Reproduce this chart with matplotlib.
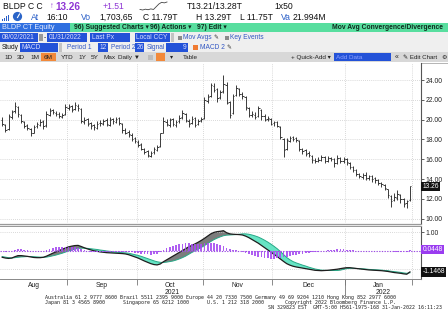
import numpy as np
import pandas as pd
import matplotlib
matplotlib.use('Agg')
import matplotlib.pyplot as plt
import matplotlib.transforms as mtransforms
from matplotlib.patches import Rectangle, Circle

# ---- data ----
dates = pd.bdate_range('2021-08-03', '2022-01-31')

opens = [20.0, 19.5, 19.1, 20.3, 20.9, 21.3, 20.5, 19.8, 19.5, 19.1,
         18.7, 19.4, 19.5, 19.9, 19.5, 20.5, 21.0, 20.7, 20.6, 20.3,
         20.6, 21.2, 21.4, 21.1, 21.4, 21.1, 19.8, 20.1, 19.7, 19.5,
         19.2, 19.7, 19.6, 20.0, 19.5, 20.1, 19.8, 20.2, 19.6, 19.0,
         18.8, 18.4, 18.1, 17.7, 17.5, 17.0, 16.8, 16.3, 16.7, 16.9,
         17.3, 18.7, 19.8, 19.5, 20.1, 19.5, 19.9, 20.3, 20.6, 19.9,
         19.7, 20.2, 19.6, 20.0, 20.2, 21.9, 22.4, 23.4, 23.1, 22.3,
         22.9, 23.5, 21.8, 20.7, 22.5, 23.1, 22.6, 22.3, 21.2, 20.5,
         20.5, 20.4, 21.0, 20.4, 20.1, 20.1, 19.7, 19.8, 19.3, 18.0,
         17.0, 17.8, 18.2, 18.1, 17.8, 17.0, 16.9, 16.6, 16.3, 15.9,
         15.8, 15.9, 16.2, 15.8, 16.1, 16.0, 15.6, 16.1, 15.8, 16.0,
         15.6, 15.2, 14.9, 14.5, 14.2, 14.4, 14.1, 14.3, 14.1, 13.9,
         13.6, 13.4, 13.0, 12.3, 11.9, 12.1, 12.4, 12.0, 11.6, 11.9]
highs = [20.3, 19.6, 20.6, 21.0, 21.8, 21.4, 20.6, 19.9, 19.6, 19.2,
         19.5, 19.8, 20.1, 20.0, 20.9, 21.2, 21.1, 20.9, 20.8, 20.7,
         21.6, 21.6, 21.5, 21.8, 21.6, 21.2, 20.3, 20.2, 19.8, 19.6,
         19.9, 20.0, 20.1, 20.2, 20.3, 20.2, 20.3, 20.3, 19.7, 19.2,
         19.0, 18.6, 18.2, 17.9, 17.6, 17.1, 16.9, 16.8, 17.2, 17.4,
         18.7, 20.3, 20.1, 20.2, 20.2, 20.0, 20.5, 21.0, 20.7, 20.1,
         20.4, 20.3, 20.1, 20.3, 22.3, 22.6, 23.7, 23.7, 23.2, 23.0,
         24.5, 23.8, 21.9, 22.6, 23.5, 23.2, 22.8, 22.4, 21.3, 20.9,
         20.8, 21.4, 21.1, 20.6, 20.4, 20.2, 19.9, 19.9, 19.4, 18.1,
         18.1, 18.3, 18.3, 18.2, 17.9, 17.1, 17.0, 16.8, 16.4, 16.1,
         16.2, 16.4, 16.3, 16.3, 16.2, 16.1, 16.4, 16.2, 16.2, 16.1,
         15.7, 15.3, 15.0, 14.6, 14.6, 14.7, 14.4, 14.4, 14.2, 14.0,
         13.7, 13.5, 13.0, 12.4, 12.6, 12.9, 12.5, 12.1, 11.9, 13.29]
lows = [19.4, 18.8, 19.0, 20.1, 20.7, 20.3, 19.7, 19.2, 19.0, 18.3,
        18.6, 19.2, 19.4, 19.1, 19.3, 20.4, 20.6, 20.4, 20.2, 20.2,
        20.5, 21.0, 20.8, 21.0, 20.9, 19.7, 19.6, 19.4, 19.1, 19.0,
        19.1, 19.4, 19.5, 19.4, 19.4, 19.6, 19.7, 19.5, 18.7, 18.5,
        18.2, 17.8, 17.6, 17.2, 16.9, 16.5, 16.2, 16.2, 16.5, 16.8,
        17.2, 18.6, 19.4, 19.3, 19.4, 19.3, 19.7, 20.1, 19.8, 19.3,
        19.6, 19.3, 19.5, 19.8, 20.1, 21.7, 22.3, 22.8, 21.8, 22.1,
        22.7, 21.6, 20.2, 20.6, 22.4, 22.4, 22.1, 21.0, 20.3, 20.3,
        20.1, 20.3, 20.0, 19.9, 19.9, 19.5, 19.4, 19.3, 18.0, 16.2,
        16.9, 17.7, 17.8, 17.7, 16.8, 16.5, 16.3, 16.2, 15.6, 15.6,
        15.7, 15.8, 15.6, 15.7, 15.8, 15.2, 15.5, 15.6, 15.6, 15.4,
        15.0, 14.7, 14.3, 14.1, 14.0, 13.9, 13.9, 13.7, 13.6, 13.4,
        13.2, 12.9, 12.1, 11.2, 11.8, 11.9, 11.6, 11.2, 11.1, 11.75]
closes = [19.6, 19.0, 20.4, 20.8, 21.4, 20.6, 19.9, 19.4, 19.2, 18.6,
          19.3, 19.6, 19.8, 19.4, 20.6, 20.9, 20.8, 20.6, 20.4, 20.5,
          21.3, 21.3, 21.0, 21.5, 21.2, 19.9, 20.0, 19.6, 19.4, 19.3,
          19.6, 19.7, 19.9, 19.6, 20.0, 19.9, 20.1, 19.7, 19.0, 18.7,
          18.5, 18.0, 17.8, 17.4, 17.0, 16.7, 16.4, 16.6, 17.0, 17.2,
          18.6, 19.9, 19.6, 20.0, 19.6, 19.8, 20.2, 20.7, 20.0, 19.6,
          20.1, 19.5, 19.9, 20.1, 22.0, 22.3, 23.5, 23.0, 22.2, 22.8,
          23.6, 21.7, 20.5, 22.4, 23.2, 22.6, 22.4, 21.3, 20.5, 20.6,
          20.3, 21.2, 20.4, 20.0, 20.2, 19.6, 19.8, 19.4, 18.2, 16.9,
          17.9, 18.1, 18.0, 17.9, 17.0, 16.8, 16.5, 16.4, 15.9, 15.8,
          15.9, 16.2, 15.8, 16.1, 16.0, 15.6, 16.1, 15.8, 16.0, 15.7,
          15.2, 14.9, 14.5, 14.3, 14.4, 14.1, 14.3, 14.0, 13.9, 13.6,
          13.5, 13.1, 12.4, 11.8, 12.2, 12.5, 12.0, 11.5, 11.8, 13.26]

macd = [-0.36, -0.40, -0.42, -0.40, -0.33, -0.27, -0.27, -0.29, -0.31, -0.34,
        -0.37, -0.38, -0.38, -0.36, -0.30, -0.22, -0.14, -0.07, 0.00, 0.07,
        0.14, 0.20, 0.24, 0.27, 0.28, 0.22, 0.15, 0.09, 0.04, -0.01,
        -0.04, -0.07, -0.09, -0.11, -0.12, -0.13, -0.14, -0.15, -0.16, -0.18,
        -0.22, -0.28, -0.34, -0.40, -0.48, -0.56, -0.63, -0.70, -0.75, -0.77,
        -0.72, -0.60, -0.50, -0.40, -0.30, -0.20, -0.10, 0.00, 0.10, 0.20,
        0.28, 0.36, 0.45, 0.55, 0.66, 0.78, 0.90, 0.98, 1.02, 1.04,
        1.07, 0.96, 0.90, 0.88, 0.87, 0.86, 0.84, 0.78, 0.70, 0.60,
        0.50, 0.40, 0.28, 0.16, 0.04, -0.08, -0.20, -0.32, -0.45, -0.58,
        -0.70, -0.78, -0.84, -0.88, -0.91, -0.94, -0.97, -1.00, -1.03, -1.06,
        -1.07, -1.08, -1.07, -1.06, -1.04, -1.02, -1.00, -0.97, -0.94, -0.92,
        -0.92, -0.94, -0.96, -0.98, -1.00, -1.02, -1.04, -1.05, -1.06, -1.07,
        -1.08, -1.10, -1.12, -1.15, -1.18, -1.20, -1.22, -1.25, -1.27, -1.1468]
hist = [-0.04, -0.05, -0.04, 0.00, 0.05, 0.09, 0.07, 0.04, 0.01, -0.02,
        -0.04, -0.04, -0.03, 0.00, 0.05, 0.10, 0.14, 0.17, 0.19, 0.21,
        0.22, 0.22, 0.21, 0.19, 0.16, 0.09, 0.02, -0.03, -0.06, -0.09,
        -0.10, -0.10, -0.10, -0.09, -0.08, -0.07, -0.06, -0.05, -0.05, -0.06,
        -0.08, -0.10, -0.12, -0.14, -0.17, -0.19, -0.20, -0.21, -0.20, -0.17,
        -0.09, 0.04, 0.12, 0.19, 0.26, 0.31, 0.35, 0.38, 0.40, 0.40,
        0.38, 0.37, 0.37, 0.38, 0.39, 0.40, 0.41, 0.39, 0.35, 0.30,
        0.27, 0.13, 0.06, 0.03, 0.01, -0.02, -0.06, -0.12, -0.18, -0.24,
        -0.29, -0.33, -0.37, -0.40, -0.42, -0.43, -0.43, -0.42, -0.40, -0.37,
        -0.33, -0.29, -0.25, -0.22, -0.19, -0.16, -0.14, -0.11, -0.09, -0.07,
        -0.05, -0.03, -0.01, 0.01, 0.03, 0.05, 0.07, 0.08, 0.07, 0.05,
        0.03, 0.01, 0.00, -0.01, -0.02, -0.03, -0.03, -0.03, -0.03, -0.03,
        -0.03, -0.03, -0.04, -0.04, -0.05, -0.05, -0.05, -0.05, -0.05, 0.0448]

price_ticks = [10, 12, 14, 16, 18, 20, 22, 24]
macd_ticks = [1.0, -1.0]
spark = [11.9, 11.8, 11.95, 11.85, 12.0, 11.9, 12.4, 12.9, 13.2, 13.1, 13.26]

SANS = ['Liberation Sans', 'DejaVu Sans']
MONO = 'DejaVu Sans Mono'
W, H = 448, 322
BLUE_F = '#2352d8'
PURPLE = '#8e35d4'


def main():
    x = np.arange(len(dates))
    o, h, l, c = map(np.array, (opens, highs, lows, closes))
    m = np.array(macd)
    hs = np.array(hist)
    sig = m - hs

    fig = plt.figure(figsize=(W / 100, H / 100), dpi=100)
    fig.patch.set_facecolor('white')

    def box(x0, y0, x1, y1):
        return [x0 / W, 1 - y1 / H, (x1 - x0) / W, (y1 - y0) / H]

    # pixel overlay for the terminal header / footer
    hd = fig.add_axes([0, 0, 1, 1])
    hd.set_xlim(0, W)
    hd.set_ylim(H, 0)
    hd.axis('off')

    def rect(x0, y0, x1, y1, fc):
        hd.add_patch(Rectangle((x0, y0), x1 - x0, y1 - y0, fc=fc, ec='none'))

    def txt(xx, yy, s, size=5, color='#111111', weight='normal', family=SANS, ha='left'):
        hd.text(xx, yy, s, fontsize=size, color=color, fontweight=weight,
                family=family, ha=ha, va='center')

    # row 1
    txt(3, 6.5, 'BLDP C C', 6.2)
    txt(50, 6.5, '\u2191', 5.5, PURPLE)
    txt(55, 6.5, '13.26', 7.2, PURPLE, 'bold')
    txt(103, 6.5, '+1.51', 6.2, PURPLE)
    sx = np.linspace(140, 167, len(spark))
    sv = np.array(spark)
    hd.plot(sx, 10 - (sv - sv.min()) / (sv.max() - sv.min()) * 8, color='#444', lw=0.6)
    txt(187, 6.5, 'T13.21/13.28T', 6.2)
    txt(274, 6.5, '1x50', 6.2)
    # row 2
    for i, hh in enumerate([2, 3.5, 5, 6.5]):
        rect(2 + i * 2, 21 - hh, 3.3 + i * 2, 21, '#2a5fc8')
    hd.add_patch(Circle((17.5, 16.5), 4.6, fc='#2a64c8', ec='none'))
    hd.plot([17.5, 19.5], [17.5, 14], color='white', lw=0.8)
    txt(31, 17, 'At', 6.2, '#2a5fc8')
    txt(46, 17, '16:10', 6.2)
    txt(81, 17, 'Vo', 6.2, '#2a5fc8')
    txt(99, 17, '1,703,65', 6.2)
    txt(143, 17, 'C 11.79T', 6.2)
    txt(196, 17, 'H 13.29T', 6.2)
    txt(240, 17, 'L 11.75T', 6.2)
    txt(281, 17, 'Va', 6.2, '#2a5fc8')
    txt(293, 17, '21.994M', 6.2)
    # row 3
    rect(0, 23, 70, 32, '#2f6fe0')
    txt(2, 27.5, 'BLDP CT Equity', 5.2, '#e6ebff')
    rect(70, 23, 448, 32, '#58de9f')
    txt(74, 27.5, '96) Suggested Charts \u25be', 4.9, '#0d2a1c', 'bold')
    txt(150, 27.5, '96) Actions \u25be', 4.9, '#0d2a1c', 'bold')
    txt(197, 27.5, '97) Edit \u25be', 4.9, '#0d2a1c', 'bold')
    txt(443, 27.5, 'Mov Avg Convergence/Divergence', 4.9, '#0d2a1c', 'bold', ha='right')
    # rows 4-5
    rect(0, 32, 448, 52, '#efefef')
    for x0, x1, s in [(0, 38, '08/02/2021'), (47, 87, '01/31/2022'),
                      (90, 130, 'Last Px'), (135, 170, 'Local CCY')]:
        rect(x0, 33, x1, 42, BLUE_F)
        txt(x0 + 1.5, 37.5, s, 4.8, '#d9ddff')
    rect(39, 34, 42.5, 41, '#9a9a9a')
    txt(43.5, 37.5, '-', 4.8)
    rect(170.5, 33, 174, 42, '#c4c4c4')
    rect(178, 35.5, 181.5, 39.5, '#8a8a8a')
    txt(183, 37.5, 'Mov Avgs', 4.8, '#3358c4')
    txt(213, 37.5, '\u270e', 4.2, '#333')
    rect(225, 35.5, 228.5, 39.5, '#8a8a8a')
    txt(230, 37.5, 'Key Events', 4.8, '#3358c4')
    txt(2, 47.5, 'Study', 4.8)
    rect(20, 43, 58, 52, BLUE_F)
    txt(22, 47.5, 'MACD', 4.8, '#d9ddff')
    rect(58.5, 43, 62, 52, '#c4c4c4')
    txt(67, 47.5, 'Period 1', 4.8, '#3358c4')
    rect(98, 43, 108, 52, BLUE_F)
    txt(100, 47.5, '12', 4.8, '#d9ddff')
    txt(111, 47.5, 'Period 2', 4.8, '#3358c4')
    rect(135, 43, 144, 52, BLUE_F)
    txt(137, 47.5, '26', 4.8, '#d9ddff')
    txt(147, 47.5, 'Signal', 4.8, '#3358c4')
    rect(166, 43, 188, 52, BLUE_F)
    txt(186, 47.5, '9', 4.8, '#d9ddff', ha='right')
    rect(193, 44.5, 198, 50, '#f07a30')
    txt(200, 47.5, 'MACD 2', 4.8, '#3358c4')
    txt(226, 47.5, '\u270e', 4.2, '#333')
    # row 6
    rect(0, 52, 448, 62, '#d8d8d8')
    rect(41, 53, 56, 61, '#f2893a')
    for xx, s in [(4, '1D'), (17, '3D'), (30, '1M'), (44, '6M'), (61, 'YTD'),
                  (78, '1Y'), (91, '5Y'), (104, 'Max'), (118, 'Daily \u25bc')]:
        txt(xx, 57, s, 4.6, '#222')
    rect(148, 54.5, 153, 59.5, '#bdbdbd')
    rect(156, 53, 165, 61, '#f2893a')
    txt(170, 57, '\u25be', 4.4, '#222')
    txt(183, 57, 'Table', 4.6, '#222')
    txt(291, 57, '+ Quick-Add \u25be', 4.6, '#222')
    rect(334, 53, 391, 61, BLUE_F)
    txt(336, 57, 'Add Data', 4.6, '#8ea2ff')
    txt(395, 57, '\u00ab', 5, '#222')
    txt(403, 57, '\u270e Edit Chart', 4.4, '#222')
    txt(447, 57, '\u2699', 4.4, '#222', ha='right')
    hd.plot([0, 448], [62.5, 62.5], color='#a8a8a8', lw=0.6)
    # panel separator
    hd.plot([0, 421], [223.5, 223.5], color='#9a9a9a', lw=0.9)
    hd.plot([0, 421], [226, 226], color='#9a9a9a', lw=0.9)
    # footer
    foot = ['Australia 61 2 9777 8600 Brazil 5511 2395 9000 Europe 44 20 7330 7500 '
            'Germany 49 69 9204 1210 Hong Kong 852 2977 6000',
            'Japan 81 3 4565 8900      Singapore 65 6212 1000      U.S. 1 212 318 2000'
            '       Copyright 2022 Bloomberg Finance L.P.']
    txt(45, 297, foot[0], 3.65, '#222', family=MONO)
    txt(45, 302.5, foot[1], 3.65, '#222', family=MONO)
    txt(268, 307.5, 'SN 329823 EST  GMT-5:00 H561-1975-168 31-Jan-2022 16:11:23',
        3.65, '#222', family=MONO)

    # ---- price panel ----
    xmin, xmax = -0.7, 132.5
    ax = fig.add_axes(box(0, 63, 421, 223))
    ax.vlines(x, l, h, color='#2e2e2e', lw=0.65)
    ax.hlines(o, x - 0.45, x, color='#2e2e2e', lw=0.65)
    ax.hlines(c, x, x + 0.45, color='#2e2e2e', lw=0.65)
    ax.set_xlim(xmin, xmax)
    ax.set_ylim(9.56, 25.72)
    ax.set_yticks(price_ticks)
    ax.set_yticklabels(['%.2f' % v for v in price_ticks])

    # month boundaries from the dates
    months = dates.to_period('M')
    starts = [i for i in range(1, len(dates)) if months[i] != months[i - 1]]
    bounds = [s - 0.5 for s in starts] + [len(dates) - 0.5]
    edges = [0] + starts + [len(dates)]
    centers = [(edges[k] + edges[k + 1] - 1) / 2 for k in range(len(edges) - 1)]
    mlabels = [dates[edges[k]].strftime('%b') for k in range(len(edges) - 1)]

    # ---- MACD panel ----
    ax2 = fig.add_axes(box(0, 227, 421, 279))
    ax2.fill_between(x, m, sig, where=m >= sig, interpolate=True, color='#7c7c7c', lw=0)
    ax2.fill_between(x, m, sig, where=m < sig, interpolate=True, color='#66e4c4', lw=0)
    ax2.plot(x, sig, color='#27a887', lw=0.7)
    ax2.plot(x, m, color='#1e1e1e', lw=0.9)
    ax2.axhline(0, color='#9b4de0', ls=(0, (1.2, 1.2)), lw=0.8)
    ax2.bar(x, hs, width=0.55, color='#a64ff0', alpha=0.9, zorder=3)
    ax2.set_xlim(xmin, xmax)
    ax2.set_ylim(-1.527, 1.269)
    ax2.set_yticks(macd_ticks)
    ax2.set_yticklabels(['1.00', ''])

    for a in (ax, ax2):
        a.set_facecolor('white')
        a.yaxis.tick_right()
        a.tick_params(axis='y', direction='out', length=2, width=0.6, color='#444',
                      pad=1, labelsize=4.9, labelcolor='#222')
        for lab in a.get_yticklabels():
            lab.set_family(SANS)
        a.grid(True, axis='y', color='#cdcdcd', ls=(0, (1, 1.5)), lw=0.6)
        for b in bounds:
            a.axvline(b, color='#cdcdcd', ls=(0, (1, 1.5)), lw=0.6, zorder=0)
        for sp in ('left', 'top', 'bottom'):
            a.spines[sp].set_visible(False)
        a.spines['right'].set_color('#555')
        a.spines['right'].set_linewidth(0.8)

    ax.set_xticks([])
    ax2.spines['bottom'].set_visible(True)
    ax2.spines['bottom'].set_color('#888')
    ax2.spines['bottom'].set_linewidth(0.7)
    ax2.set_xticks(bounds)
    ax2.set_xticklabels([])
    ax2.tick_params(axis='x', direction='out', length=4, width=0.6, color='#777')
    ax2.set_xticks(centers, minor=True)
    ax2.set_xticklabels(mlabels, minor=True, family=SANS, fontsize=4.9, color='#222')
    ax2.tick_params(axis='x', which='minor', length=0, pad=2.5)

    # year labels and the long year separator
    trans = mtransforms.blended_transform_factory(ax2.transData, ax2.transAxes)
    ystart = [i for i in range(1, len(dates)) if dates[i].year != dates[i - 1].year][0]
    ax2.plot([ystart - 0.5, ystart - 0.5], [0, -0.33], color='#777', lw=0.6,
             transform=trans, clip_on=False)
    ax2.text((xmin + ystart - 0.5) / 2, -0.25, str(dates[0].year), transform=trans,
             ha='center', va='center', fontsize=4.9, family=SANS, color='#222')
    ax2.text((ystart - 0.5 + xmax) / 2, -0.25, str(dates[-1].year), transform=trans,
             ha='center', va='center', fontsize=4.9, family=SANS, color='#222')

    # last-value flags on the right axis
    def flag(a, val, s, fc):
        a.text(1.004, val, s, transform=a.get_yaxis_transform(), ha='left', va='center',
               fontsize=4.8, family=SANS, color='white', clip_on=False, zorder=5,
               bbox=dict(boxstyle='square,pad=0.18', fc=fc, ec='none'))

    flag(ax, closes[-1], '%.2f' % closes[-1], '#111111')
    flag(ax2, hs[-1], '%.4f' % hs[-1], '#9a3cf0')
    flag(ax2, m[-1], '%.4f' % m[-1], '#111111')

    fig.savefig('out.png', dpi=100, facecolor='white')


if __name__ == '__main__':
    main()
